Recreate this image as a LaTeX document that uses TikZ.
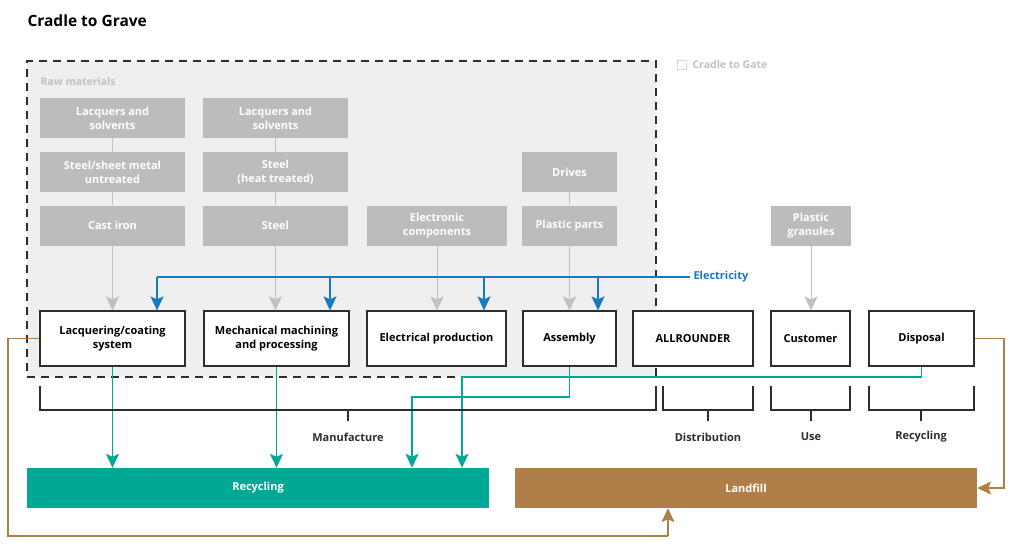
\documentclass[tikz,border=0pt]{standalone}
\usepackage{fontspec}
\setmainfont{Open Sans}
\usepackage{xcolor}
\usetikzlibrary{arrows.meta, positioning}
\definecolor{rawGray}{RGB}{189,187,187}
\definecolor{gateFill}{RGB}{239,239,239}
\definecolor{hintGray}{RGB}{192,192,192}
\definecolor{elecBlue}{RGB}{20,122,196}
\definecolor{recTeal}{RGB}{0,168,150}
\definecolor{fillBrown}{RGB}{176,126,72}
\definecolor{lineDark}{RGB}{45,45,45}

\begin{document}
\begin{tikzpicture}[x=1pt, y=-1pt,
    raw/.style={fill=rawGray, text=white, inner sep=0pt, minimum height=40pt,
      align=center, font=\bfseries\fontsize{11}{14}\selectfont},
    stage/.style={draw=lineDark, line width=1.2pt, fill=white, inner sep=0pt,
      minimum height=55pt, align=center, font=\bfseries\fontsize{11}{14.5}\selectfont},
    bar/.style={text=white, inner sep=0pt, minimum width=462pt, minimum height=40pt,
      font=\bfseries\fontsize{11}{13}\selectfont},
    phase/.style={font=\bfseries\fontsize{11}{13}\selectfont, text=lineDark},
    tip/.style={-{Stealth[length=14pt, width=13pt, inset=3pt]}},
    feed/.style={draw=hintGray, line width=1pt},
    power/.style={draw=elecBlue, line width=1.2pt},
    back/.style={draw=recTeal, line width=1.2pt},
    waste/.style={draw=fillBrown, line width=1.2pt},
    bracket/.style={draw=lineDark, line width=1.2pt}
  ]
  \useasboundingbox (0,0) rectangle (1024,554);

  % cradle to gate area
  \node[draw=lineDark, fill=gateFill, line width=1.1pt, dash pattern=on 8pt off 6pt,
    minimum width=629pt, minimum height=316pt, inner sep=0pt] (gate) at (341.5,219) {};
  \node[anchor=west, font=\bfseries\fontsize{15.5}{18}\selectfont] (title) at (24,21) {Cradle to Grave};
  \node[anchor=west, text=hintGray, font=\bfseries\fontsize{10.5}{12}\selectfont] (rawlbl) at (37,82) {Raw materials};
  \node[draw=hintGray, densely dotted, line width=0.9pt, minimum size=9pt, inner sep=0pt] (key) at (681.5,64.5) {};
  \node[anchor=west, text=hintGray, font=\bfseries\fontsize{10.5}{12}\selectfont] (keylbl) at (689,64.5) {Cradle to Gate};

  % raw materials
  \node[raw, minimum width=145pt] (lac1) at (112.5,118) {Lacquers and\\solvents};
  \node[raw, minimum width=145pt] (sheet) at (112.5,172) {Steel/sheet metal\\untreated};
  \node[raw, minimum width=145pt] (iron) at (112.5,225.5) {Cast iron};
  \node[raw, minimum width=145pt] (lac2) at (275.5,118) {Lacquers and\\solvents};
  \node[raw, minimum width=145pt] (heat) at (275.5,172) {Steel\\(heat treated)};
  \node[raw, minimum width=145pt] (steel) at (275.5,225.5) {Steel};
  \node[raw, minimum width=140pt] (ecomp) at (437,225.5) {Electronic\\components};
  \node[raw, minimum width=95pt] (drives) at (569.5,172) {Drives};
  \node[raw, minimum width=95pt] (plast) at (569.5,225.5) {Plastic parts};
  \node[raw, minimum width=80pt] (gran) at (811,225.5) {Plastic\\granules};

  % life cycle stages
  \node[stage, minimum width=145pt] (lacq) at (112.5,338.5) {Lacquering/coating\\system};
  \node[stage, minimum width=145pt] (mech) at (276.5,338.5) {Mechanical machining\\and processing};
  \node[stage, minimum width=139pt] (eprod) at (436.5,338.5) {Electrical production};
  \node[stage, minimum width=93pt] (asm) at (569.5,338.5) {Assembly};
  \node[stage, minimum width=120pt] (allr) at (693,338.5) {ALLROUNDER};
  \node[stage, minimum width=79pt] (cust) at (810.5,338.5) {Customer};
  \node[stage, minimum width=105pt] (disp) at (921.5,338.5) {Disposal};

  % end of life
  \node[bar, fill=recTeal] (recyc) at (258,488) {Recycling};
  \node[bar, fill=fillBrown] (landfill) at (746,488) {Landfill};

  % material flows
  \draw[feed] (lac1) -- (sheet);
  \draw[feed] (sheet) -- (iron);
  \draw[feed, tip] (iron) -- (lacq);
  \draw[feed] (lac2) -- (heat);
  \draw[feed] (heat) -- (steel);
  \draw[feed, tip] (steel) -- (steel.south |- mech.north);
  \draw[feed, tip] (ecomp) -- (ecomp.south |- eprod.north);
  \draw[feed] (drives) -- (plast);
  \draw[feed, tip] (plast) -- (asm);
  \draw[feed, tip] (gran) -- (gran.south |- cust.north);

  % electricity
  \node[anchor=west, text=elecBlue, font=\bfseries\fontsize{11}{13}\selectfont] (elbl) at (690,277) {Electricity};
  \coordinate (e1) at (157,277);
  \draw[power] (elbl.west) -- (e1);
  \foreach \x/\t in {157/lacq, 330/mech, 484/eprod, 598/asm} {
    \coordinate (p) at (\x,277);
    \draw[power, tip] (p) -- (p |- \t.north);
  }

  % recycling
  \coordinate (r3) at (412,397);
  \coordinate (r4) at (462,377);
  \draw[back, tip] (lacq) -- (lacq.south |- recyc.north);
  \draw[back, tip] (mech) -- (mech.south |- recyc.north);
  \draw[back, tip] (asm.south) |- (r3) -- (r3 |- recyc.north);
  \draw[back, tip] (disp.south) |- (r4) -- (r4 |- recyc.north);

  % landfill
  \coordinate (w1) at (8,536);
  \coordinate (w2) at (668,536);
  \coordinate (w3) at (1004,488);
  \draw[waste] (lacq.west) -| (w1) -- (w2);
  \draw[waste, tip] (w2) -- (w2 |- landfill.south);
  \draw[waste, tip] (disp.east) -| (w3) -- (landfill.east);

  % phase brackets
  \draw[bracket] (40,386) -- (40,410) -- (656,410) -- (656,386) (348,410) -- (348,421);
  \draw[bracket] (663,386) -- (663,410) -- (753,410) -- (753,386) (708,410) -- (708,421);
  \draw[bracket] (771,386) -- (771,410) -- (850,410) -- (850,386) (811,410) -- (811,421);
  \draw[bracket] (869,386) -- (869,410) -- (974,410) -- (974,386) (921,410) -- (921,421);
  \node[phase] (manu) at (348,437) {Manufacture};
  \node[phase] (distr) at (708,437) {Distribution};
  \node[phase] (use) at (811,437) {Use};
  \node[phase] (recy) at (921,437) {Recycling};
\end{tikzpicture}
\end{document}
